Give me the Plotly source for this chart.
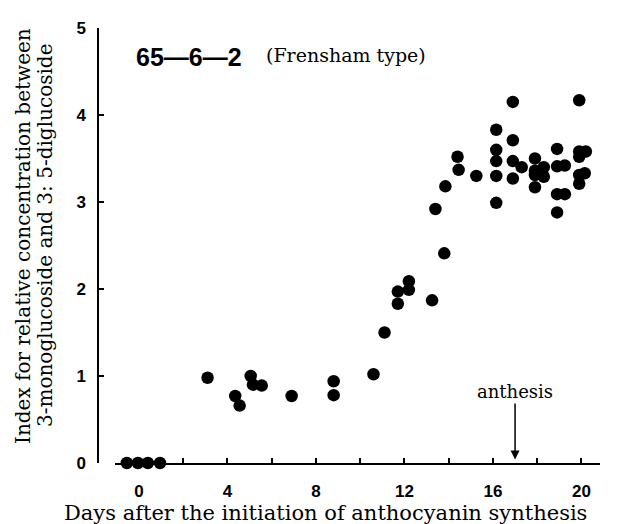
import plotly.graph_objects as go

# Days after initiation of anthocyanin synthesis
days = [-0.55, -0.05, 0.4, 0.95,
        3.1, 4.35, 4.55, 5.05, 5.15, 5.55, 6.9, 8.8, 8.8,
        10.6, 11.1, 11.7, 11.7, 12.2, 12.2, 13.25, 13.4, 13.8, 13.85,
        14.4, 14.45, 15.25,
        16.15, 16.15, 16.15, 16.15, 16.15,
        16.9, 16.9, 16.9, 16.9, 17.3,
        17.9, 17.9, 17.9, 17.9, 18.3, 18.3,
        18.9, 18.9, 19.25, 18.9, 19.25, 18.9,
        19.9, 19.9, 20.2, 19.9, 20.15, 19.9, 19.9]

# Index for relative concentration
index_values = [0, 0, 0, 0,
                0.98, 0.77, 0.66, 1.00, 0.90, 0.89, 0.77, 0.94, 0.78,
                1.02, 1.50, 1.97, 1.83, 2.09, 1.99, 1.87, 2.92, 2.41, 3.18,
                3.52, 3.37, 3.30,
                3.83, 3.60, 3.47, 3.30, 2.99,
                4.15, 3.71, 3.47, 3.27, 3.40,
                3.50, 3.36, 3.31, 3.17, 3.40, 3.29,
                3.61, 3.41, 3.42, 3.09, 3.09, 2.88,
                4.17, 3.58, 3.58, 3.52, 3.33, 3.31, 3.21]

x_tickvals = [0, 2, 4, 6, 8, 10, 12, 14, 16, 18, 20]
x_ticktext = ["0", "", "4", "", "8", "", "12", "", "16", "", "20"]
y_tickvals = [0, 1, 2, 3, 4, 5]
y_ticktext = ["0", "1", "2", "3", "4", "5"]

serif = "DejaVu Serif"
sans = "Liberation Sans"

fig = go.Figure()
fig.add_trace(go.Scatter(
    x=days, y=index_values, mode="markers",
    marker=dict(size=12.5, color="black", line=dict(width=0)),
    cliponaxis=False, showlegend=False,
))

W, H = 639, 524
L, R, T, B = 98, 39, 28, 61
pw, ph = W - L - R, H - T - B

def px(xp):
    return (xp - L) / pw

def py(yp):
    return (H - B - yp) / ph

fig.update_layout(
    width=W, height=H,
    margin=dict(l=L, r=R, t=T, b=B),
    paper_bgcolor="white", plot_bgcolor="white",
    xaxis=dict(
        domain=[px(115), 1], range=[-1.085, 20.84],
        showline=True, linecolor="black", linewidth=2,
        ticks="inside", ticklen=5, tickwidth=1.5, tickcolor="black",
        tickvals=x_tickvals, ticktext=x_ticktext,
        tickfont=dict(family=sans, size=17, color="black", weight="bold"),
        ticklabelstandoff=12,
        showgrid=False, zeroline=False,
    ),
    yaxis=dict(
        anchor="free", position=0, range=[0, 5.0],
        showline=True, linecolor="black", linewidth=1.5,
        ticks="inside", ticklen=5, tickwidth=1.5, tickcolor="black",
        tickvals=y_tickvals, ticktext=y_ticktext,
        tickfont=dict(family=sans, size=17, color="black", weight="bold"),
        ticklabelstandoff=8,
        showgrid=False, zeroline=False,
    ),
    annotations=[
        dict(text="Days after the initiation of anthocyanin synthesis",
             xref="paper", yref="paper", x=px(325), y=py(513),
             xanchor="center", yanchor="middle", showarrow=False,
             font=dict(family=serif, size=21, color="black")),
        dict(text="Index for relative concentration between",
             xref="paper", yref="paper", x=px(23), y=py(236),
             xanchor="center", yanchor="middle", showarrow=False, textangle=-90,
             font=dict(family=serif, size=20, color="black")),
        dict(text="3-monoglucoside and 3: 5-diglucoside",
             xref="paper", yref="paper", x=px(45), y=py(236),
             xanchor="center", yanchor="middle", showarrow=False, textangle=-90,
             font=dict(family=serif, size=20, color="black")),
        dict(text="<b>65—6—2</b>",
             xref="paper", yref="paper", x=px(134), y=py(57),
             xanchor="left", yanchor="middle", showarrow=False,
             font=dict(family=sans, size=25, color="black")),
        dict(text="(Frensham type)",
             xref="paper", yref="paper", x=px(264), y=py(55),
             xanchor="left", yanchor="middle", showarrow=False,
             font=dict(family=serif, size=19, color="black")),
        dict(text="anthesis", x=17, y=0.04, xref="x", yref="y",
             showarrow=True, ax=0, ay=-68, arrowhead=2, arrowsize=1.2,
             arrowwidth=1.5, arrowcolor="black",
             font=dict(family=serif, size=18, color="black")),
    ],
)

fig.write_html("out.html")
